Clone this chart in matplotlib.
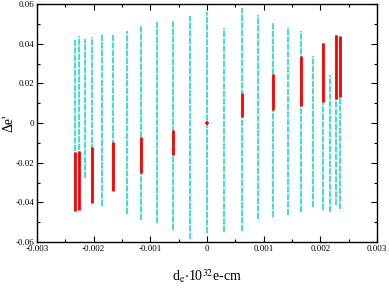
import matplotlib
matplotlib.use("Agg")
import matplotlib.pyplot as plt
from matplotlib.ticker import MultipleLocator, FuncFormatter

plt.rcParams['font.family'] = ['Liberation Serif', 'DejaVu Serif']
plt.rcParams['mathtext.fontset'] = 'stix'

# cyan columns: x position, lowest and highest point
cyan_x = [-0.00233, -0.00226, -0.00216, -0.00203, -0.00186, -0.00165, -0.00142,
          -0.00117, -0.00089, -0.0006, -0.0003, 0.0, 0.0003, 0.00061, 0.0009,
          0.00117, 0.00143, 0.00166, 0.00187, 0.00204, 0.00217, 0.00227, 0.00235]
cyan_lo = [-0.0442, -0.0439, -0.0279, -0.0402, -0.0417, -0.0343, -0.046,
           -0.049, -0.0506, -0.054, -0.0587, -0.0556, -0.0548, -0.0545, -0.0483,
           -0.0476, -0.0464, -0.0447, -0.0422, -0.0439, -0.0447, -0.0413, -0.0435]
cyan_hi = [0.0422, 0.0439, 0.0424, 0.0434, 0.0449, 0.0442, 0.0462,
           0.0494, 0.0509, 0.0518, 0.0541, 0.0561, 0.0479, 0.058, 0.0543,
           0.0503, 0.0486, 0.0464, 0.0338, 0.0405, 0.0244, 0.0444, 0.0439]

# red segments
red_x = [-0.00233, -0.00226, -0.00203, -0.00165, -0.00117, -0.0006,
         0.00061, 0.00117, 0.00166, 0.00204, 0.00227, 0.00235]
red_lo = [-0.0442, -0.0439, -0.0402, -0.0343, -0.0254, -0.016,
          0.0032, 0.0066, 0.0086, 0.0107, 0.0121, 0.0133]
red_hi = [-0.0145, -0.014, -0.0123, -0.0094, -0.0072, -0.0035,
          0.0153, 0.0247, 0.0338, 0.0405, 0.0444, 0.0439]
red_pt_x = [0.0]
red_pt_y = [0.0]

fig = plt.figure(figsize=(3.89, 2.89), dpi=100)
ax = fig.add_axes([0.0951, 0.1626, 0.874, 0.8235])

ax.vlines(cyan_x, cyan_lo, cyan_hi, colors='#48DDD0', linewidth=1.5,
          linestyles=[(0, (3, 0.6))])
ax.vlines(red_x, red_lo, red_hi, colors='red', linewidth=2.0)
ax.plot(red_pt_x, red_pt_y, '+', color='red', markersize=3.5, markeredgewidth=1.2)

ax.set_xlim(-0.003, 0.003)
ax.set_ylim(-0.06, 0.06)
ax.xaxis.set_major_locator(MultipleLocator(0.001))
ax.xaxis.set_minor_locator(MultipleLocator(0.0005))
ax.yaxis.set_major_locator(MultipleLocator(0.02))
ax.yaxis.set_minor_locator(MultipleLocator(0.01))
fmt = FuncFormatter(lambda v, p: '0' if abs(v) < 1e-12 else f'{v:g}')
ax.xaxis.set_major_formatter(fmt)
ax.yaxis.set_major_formatter(fmt)
ax.tick_params(which='both', direction='in', top=True, right=True, labelsize=6.5)
ax.tick_params(which='major', length=4, width=0.8)
ax.tick_params(which='minor', length=2, width=0.8)
ax.tick_params(axis='x', pad=2.5)
ax.tick_params(axis='y', pad=2)
for s in ax.spines.values():
    s.set_linewidth(1.0)

ax.set_xlabel(r'd$_{\rm e}$$\cdot$10$^{32}$e-cm', fontsize=10)
ax.set_ylabel("\u0394e'", fontsize=10)
ax.xaxis.set_label_coords(0.5, -0.105)
ax.yaxis.set_label_coords(-0.064, 0.5)

fig.savefig('out.png', dpi=100)
